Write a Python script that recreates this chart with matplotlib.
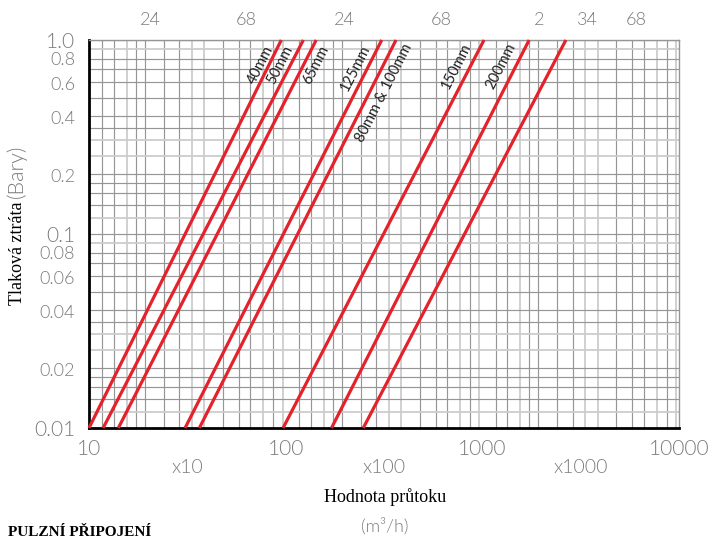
import matplotlib
matplotlib.use('Agg')
import matplotlib.pyplot as plt
from matplotlib.transforms import blended_transform_factory

# ---------------- data ----------------
pipe_labels = ['40mm', '50mm', '65mm', '125mm', '80mm & 100mm', '150mm', '200mm']
# flow (m3/h) where each curve reaches 0.01 bar and 1.0 bar
q_at_low = [10.0, 11.8, 14.1, 30.8, 36.4, 97.0, 171.0, 248.0]
q_at_high = [95.0, 123.0, 143.0, 308.0, 364.0, 1020.0, 1730.0, 2660.0]
p_low, p_high = 0.01, 1.0

y_ticks = [0.01, 0.02, 0.04, 0.06, 0.08, 0.1, 0.2, 0.4, 0.6, 0.8, 1.0]
y_ticklabels = ['0.01', '0.02', '0.04', '0.06', '0.08', '0.1', '0.2', '0.4', '0.6', '0.8', '1.0']
y_major = ['0.01', '0.1', '1.0']
x_ticks = [10, 100, 1000, 10000]
x_ticklabels = ['10', '100', '1000', '10000']
mult_pos = [31.6, 316, 3162]
mult_labels = ['x10', 'x100', 'x1000']
top_pos = [20.6, 63, 199, 619, 1946, 3412, 6050]
top_labels = ['24', '68', '24', '68', '2', '34', '68']

# grid pattern inside each decade (fraction of a decade, light flag)
x_grid = [(0.0686, 0), (0.127, 0), (0.193, 1), (0.239, 0), (0.285, 0), (0.381, 0),
          (0.460, 0), (0.524, 1), (0.587, 1), (0.681, 0), (0.763, 0), (0.821, 0),
          (0.887, 1), (0.938, 0), (0.985, 1)]
y_grid = [(0.085, 1), (0.149, 0), (0.211, 0), (0.261, 0), (0.309, 0), (0.402, 1),
          (0.483, 1), (0.546, 0), (0.607, 0), (0.701, 0), (0.782, 0), (0.848, 0),
          (0.904, 0), (0.954, 1), (1.0, 0)]

# label placement in axes fraction
label_pos = [(0.290, 0.936), (0.324, 0.936), (0.385, 0.936), (0.451, 0.928),
             (0.500, 0.863), (0.622, 0.933), (0.698, 0.933)]

RED = '#e3222b'
GRAY_TXT = '#7c7c7c'
SANS = ['Lato', 'DejaVu Sans']
SERIF = ['Liberation Serif', 'DejaVu Serif']
LW = 300

fig = plt.figure(figsize=(7.12, 5.39), dpi=100)
ax = fig.add_axes([89 / 712, 1 - 428 / 539, 590 / 712, 388 / 539])
ax.set_xscale('log')
ax.set_yscale('log')
ax.set_xlim(10, 10000)
ax.set_ylim(0.01, 1.0)

DARK = dict(color='#969696', lw=0.85, zorder=1)
LIGHT = dict(color='#cdcdcd', lw=1.3, zorder=1)
for d in [10, 100, 1000]:
    for f, light in x_grid:
        ax.axvline(d * 10 ** f, **(LIGHT if light else DARK))
for d in [0.01, 0.1]:
    for f, light in y_grid:
        ax.axhline(d * 10 ** f, **(LIGHT if light else DARK))

# curves
for ql, qh in zip(q_at_low, q_at_high):
    ax.plot([ql, qh], [p_low, p_high], color=RED, lw=2.3, zorder=3,
            solid_capstyle='butt', clip_on=False)

# curve labels
for lab, (fx, fy) in zip(pipe_labels, label_pos):
    ax.text(fx, fy, lab, transform=ax.transAxes, rotation=63, rotation_mode='anchor',
            ha='center', va='center', fontsize=10.5, color='#1e1e1e',
            family=SANS, zorder=4)

# spines
for s in ['left', 'bottom']:
    ax.spines[s].set_color('black')
    ax.spines[s].set_linewidth(2)
for s in ['top', 'right']:
    ax.spines[s].set_color('#969696')
    ax.spines[s].set_linewidth(1)

ax.minorticks_off()
ax.set_xticks(x_ticks)
ax.set_xticklabels(x_ticklabels)
ax.set_yticks(y_ticks)
ax.set_yticklabels(y_ticklabels)
ax.tick_params(axis='both', length=0)
ax.tick_params(axis='x', pad=8, labelsize=15, labelcolor=GRAY_TXT)
ax.tick_params(axis='y', pad=10, labelsize=13, labelcolor=GRAY_TXT)
for t in ax.get_xticklabels() + ax.get_yticklabels():
    t.set_family(SANS)
    t.set_fontweight(LW)
for t in ax.get_yticklabels():
    if t.get_text() in y_major:
        t.set_fontsize(15)

tb = blended_transform_factory(ax.transData, ax.transAxes)
for xp, lab in zip(mult_pos, mult_labels):
    ax.text(xp, -0.102, lab, transform=tb, ha='center', va='center',
            fontsize=14, color=GRAY_TXT, family=SANS, fontweight=LW)
for xp, lab in zip(top_pos, top_labels):
    ax.text(xp, 1.052, lab, transform=tb, ha='center', va='center',
            fontsize=13, color=GRAY_TXT, family=SANS, fontweight=LW)

fig.text(385 / 712, 1 - 497 / 539, 'Hodnota průtoku', ha='center', va='center',
         fontsize=13, family=SERIF, color='black')
fig.text(385 / 712, 1 - 526 / 539, '(m³/h)', ha='center', va='center',
         fontsize=13, family=SANS, color=GRAY_TXT, fontweight=LW)

t1 = fig.text(18 / 712, 1 - 305 / 539, 'Tlaková ztráta', rotation=90,
              rotation_mode='anchor', ha='left', va='center', fontsize=13,
              family=SERIF, color='black')
fig.canvas.draw()
bb = t1.get_window_extent()
fig.text(17 / 712, (bb.y1 + 4) / fig.bbox.height, '(Bary)', rotation=90,
         rotation_mode='anchor', ha='left', va='center', fontsize=15.5,
         family=SANS, color=GRAY_TXT, fontweight=LW)

fig.text(8 / 712, 1 - 526 / 539, 'PULZNÍ PŘIPOJENÍ', ha='left', va='top',
         fontsize=11, family=SERIF, fontweight='bold', color='black')

fig.savefig('out.png', dpi=100)
